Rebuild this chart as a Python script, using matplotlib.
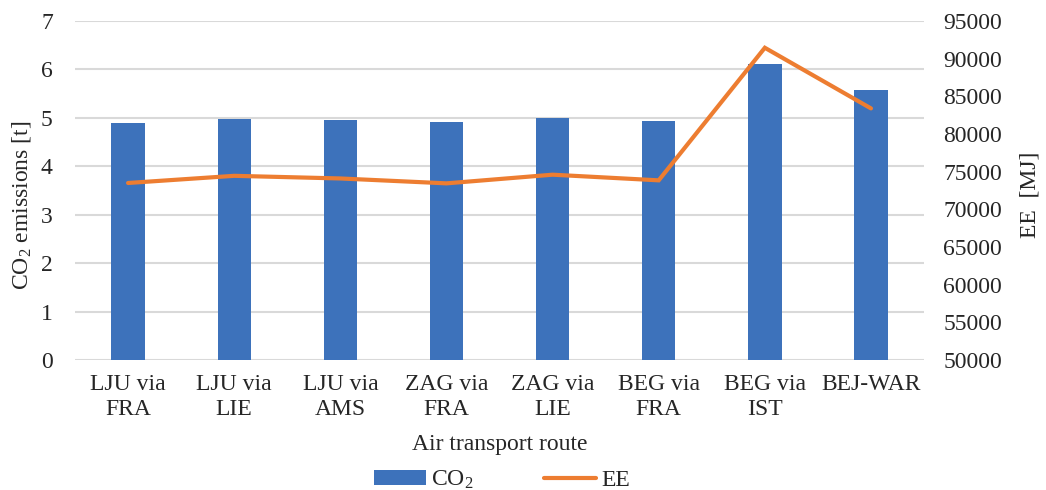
import matplotlib
matplotlib.use("Agg")
import matplotlib.pyplot as plt
import numpy as np
from matplotlib.patches import Patch
from matplotlib.lines import Line2D

plt.rcParams["font.family"] = ["Liberation Serif", "DejaVu Serif"]
plt.rcParams["mathtext.fontset"] = "custom"
plt.rcParams["mathtext.rm"] = "Liberation Serif"
plt.rcParams["mathtext.default"] = "regular"

routes = ["LJU via\nFRA", "LJU via\nLIE", "LJU via\nAMS", "ZAG via\nFRA",
          "ZAG via\nLIE", "BEG via\nFRA", "BEG via\nIST", "BEJ-WAR"]
co2_t = [4.89, 4.98, 4.95, 4.91, 4.99, 4.93, 6.12, 5.57]
ee_mj = [73500, 74450, 74100, 73450, 74600, 73850, 91450, 83400]

left_ticks = [0, 1, 2, 3, 4, 5, 6, 7]
right_ticks = [50000, 55000, 60000, 65000, 70000, 75000, 80000, 85000, 90000, 95000]

BLUE = "#3D72BB"
ORANGE = "#ED7D31"
GRID = "#D9D9D9"
TEXT = "#262626"
FS = 17

W, H = 1046, 490
fig = plt.figure(figsize=(W / 100, H / 100), dpi=100)
ax = fig.add_axes([0.0717, 0.2653, 0.8117, 0.6918])
ax2 = ax.twinx()

x = np.arange(len(routes))
ax.bar(x, co2_t, width=0.314, color=BLUE, zorder=2)
ax2.plot(x, ee_mj, color=ORANGE, lw=3.0, solid_capstyle="round",
         solid_joinstyle="miter", zorder=3)

ax.set_xlim(-0.5, len(routes) - 0.5)
ax.set_ylim(0, 7)
ax.set_yticks(left_ticks)
ax2.set_ylim(50000, 95000)
ax2.set_yticks(right_ticks)

ax.set_axisbelow(True)
ax.yaxis.grid(True, color=GRID, lw=1.5)
for a in (ax, ax2):
    for s in a.spines.values():
        s.set_visible(False)
    a.tick_params(length=0, labelsize=FS, colors=TEXT)

ax.set_xticks(x)
ax.set_xticklabels(routes, fontsize=FS, linespacing=1.25)
for lbl in ax.get_xticklabels():
    lbl.set_multialignment("center")
ax.tick_params(axis="x", pad=10)
ax.tick_params(axis="y", pad=16)
ax2.tick_params(axis="y", pad=14)

ax.set_xlabel("Air transport route", fontsize=FS, color=TEXT, labelpad=10)

# axis titles placed in figure pixels
fig.text(22 / W, 1 - 205 / H, "CO$_2$ emissions [t]", fontsize=FS, color=TEXT,
         rotation=90, ha="center", va="center")
fig.text(1030 / W, 1 - 195 / H, "EE  [MJ]", fontsize=FS, color=TEXT,
         rotation=90, ha="center", va="center")

handles = [Patch(facecolor=BLUE, edgecolor="none"),
           Line2D([0], [0], color=ORANGE, lw=3.0, solid_capstyle="round")]
fig.legend(handles, ["CO$_2$", "EE"], loc="lower center",
           bbox_to_anchor=(0.48, -0.045), ncol=2, frameon=False, fontsize=FS,
           handlelength=2.2, handleheight=0.6, handletextpad=0.2,
           columnspacing=3.0, labelcolor=TEXT)

fig.savefig("out.png", dpi=100)
